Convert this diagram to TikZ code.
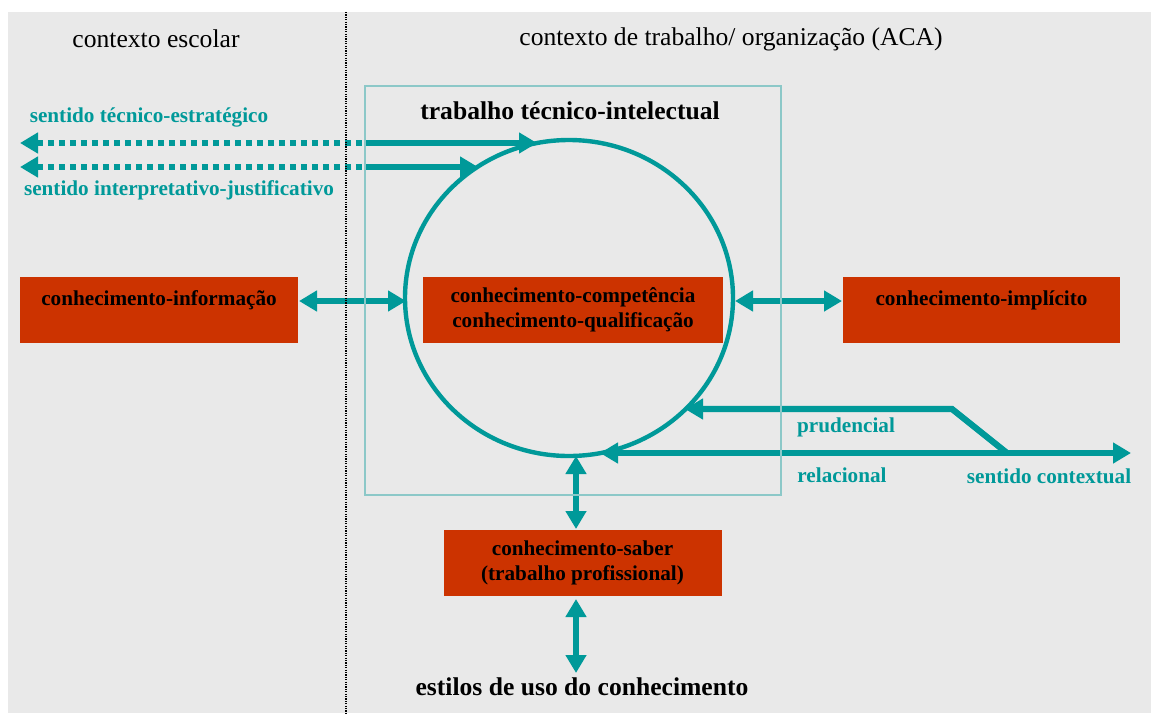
\documentclass[tikz,border=0pt]{standalone}
\usepackage{fontspec}
\setmainfont{Liberation Serif}
\usetikzlibrary{arrows.meta,shapes.geometric}
\definecolor{tl}{HTML}{009999}
\definecolor{boxred}{HTML}{CC3300}
\definecolor{bg}{HTML}{E9E9E9}
\definecolor{frm}{HTML}{8CC8C8}
\newcommand{\bigtxt}{\fontsize{12.8}{15}\selectfont}
\newcommand{\smtxt}{\fontsize{10.6}{12.5}\selectfont}
\tikzset{
  kbox/.style={fill=boxred, draw=none, minimum height=33pt, align=center, inner sep=0pt, font=\smtxt\bfseries, text=black},
  tarrow/.style={draw=tl, line width=3.1pt, arrows={Triangle[length=9pt,width=10pt]-Triangle[length=9pt,width=10pt]}},
  tright/.style={draw=tl, line width=3.1pt, -{Triangle[length=9pt,width=10pt]}},
  tdot/.style={draw=tl, line width=3.1pt, dash pattern=on 3.2pt off 2.3pt, {Triangle[length=9pt,width=10pt]}-},
  tlabel/.style={text=tl, font=\smtxt\bfseries, inner sep=0pt},
  hdr/.style={font=\bigtxt, inner sep=0pt},
  bhdr/.style={font=\bigtxt\bfseries, inner sep=0pt}
}
\begin{document}
\begin{tikzpicture}[x=0.5pt,y=-0.5pt]
\useasboundingbox (0,0) rectangle (1151,713);
\fill[white] (0,0) rectangle (1151,713);
\fill[bg] (8,12) rectangle (1151,713);

% headers
\node[hdr] (hl) at (156,39) {contexto escolar};
\node[hdr] (hr) at (731,39) {contexto de trabalho/ organização (ACA)};
\node[bhdr] (tti) at (570,111) {trabalho técnico-intelectual};

% circle
\node[draw=tl, line width=2.2pt, ellipse, minimum width=164pt, minimum height=158pt, inner sep=0pt] (circ) at (569,298) {};

% boxes
\node[kbox, minimum width=139pt, text height=8pt, text depth=13pt] (info) at (159,310) {conhecimento-informação};
\node[kbox, minimum width=150pt] (comp) at (573,310) {conhecimento-competência\\conhecimento-qualificação};
\node[kbox, minimum width=138.5pt, text height=8pt, text depth=13pt] (impl) at (981.5,310) {conhecimento-implícito};
\node[kbox, minimum width=139pt] (saber) at (582.5,563) {conhecimento-saber\\(trabalho profissional)};
\node[bhdr] (estilos) at (582,687) {estilos de uso do conhecimento};

% coordinates
\coordinate (teL) at (20,143);
\coordinate (teM) at (365,143);
\coordinate (teR) at (537,143);
\coordinate (ijL) at (20,167);
\coordinate (ijM) at (365,167);
\coordinate (ijR) at (478,167);
\coordinate (infoE) at (299,301);
\coordinate (circW) at (406,301);
\coordinate (circE) at (735,301);
\coordinate (implW) at (842,301);
\coordinate (cbot) at (576,456);
\coordinate (sabT) at (576,529);
\coordinate (sabB) at (576,599);
\coordinate (estT) at (576,673);
\coordinate (pJ) at (1007,453);
\coordinate (pB) at (952,409);
\coordinate (pC) at (685,409);
\coordinate (rL) at (600,453);
\coordinate (rR) at (1131,453);

% arrows
\draw[tdot] (teL) -- (teM);
\draw[tright] (teM) -- (teR);
\draw[tdot] (ijL) -- (ijM);
\draw[tright] (ijM) -- (ijR);
\draw[tarrow] (infoE) -- (circW);
\draw[tarrow] (circE) -- (implW);
\draw[tarrow] (cbot) -- (sabT);
\draw[tarrow] (sabB) -- (estT);
\draw[tright, line join=miter] (pJ) -- (pB) -- (pC);
\draw[tarrow] (rL) -- (rR);

% frame and separator on top
\draw[frm, line width=0.7pt] (365,86) rectangle (781,495);
\draw[black, line width=0.6pt, dash pattern=on 0.6pt off 0.6pt] (346,12) -- (346,713);

% labels
\node[tlabel] (lte) at (149,117) {sentido técnico-estratégico};
\node[tlabel] (lij) at (179,190) {sentido interpretativo-justificativo};
\node[tlabel] (lpr) at (846,427) {prudencial};
\node[tlabel] (lre) at (842,475) {relacional};
\node[tlabel] (lsc) at (1049,476) {sentido contextual};
\end{tikzpicture}
\end{document}
